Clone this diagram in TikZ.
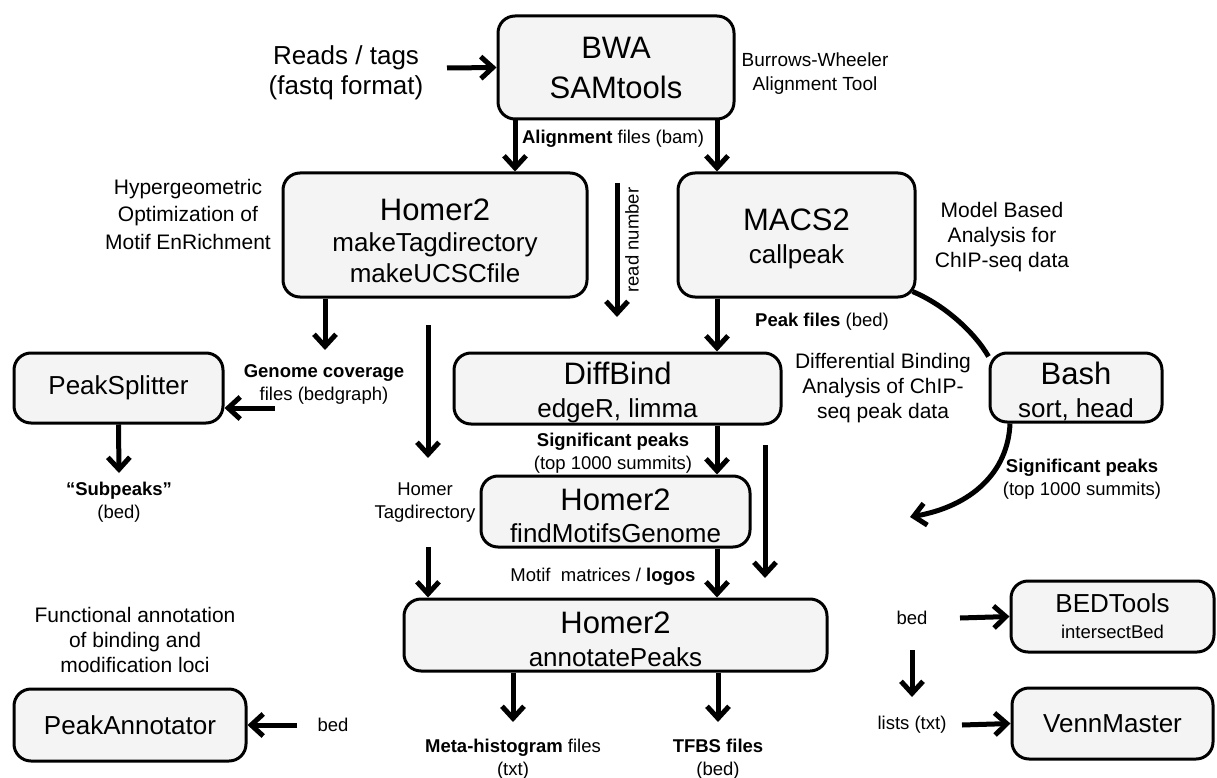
\documentclass[tikz,border=0pt]{standalone}
\usepackage{fontspec}
\setmainfont{Liberation Sans}
\usetikzlibrary{arrows.meta,positioning}
\definecolor{boxgrey}{HTML}{F4F4F4}
\newcommand\toolname[1]{{\fontsize{31}{33}\selectfont\rule{0pt}{30pt}#1}}
\tikzset{
	tool/.style={draw, line width=3pt, rounded corners=17pt, fill=boxgrey, align=center, inner sep=0pt, font=\fontsize{26}{33}\selectfont},
	arr/.style={-{Straight Barb[length=12pt,width=22pt]}, line width=5pt},
	note/.style={align=center, font=\fontsize{18.5}{23}\selectfont},
	desc/.style={align=center, font=\fontsize{21}{25}\selectfont},
}

\begin{document}
\begin{tikzpicture}[x=1pt, y=-1pt, on grid]
	\useasboundingbox (0,0) rectangle (1217,778);

	% tools
	\node[tool, minimum width=236pt, minimum height=103pt, font=\fontsize{31}{40}\selectfont] (bwa) at (616,67.5) {BWA\\SAMtools};
	\node[tool, minimum width=304pt, minimum height=124pt, font=\fontsize{26}{31}\selectfont] (homer) at (435,235) {\toolname{\rule{0pt}{33pt}Homer2}\\makeTagdirectory\\makeUCSCfile};
	\node[tool, minimum width=237pt, minimum height=124pt] (macs) [right=361.5pt of homer] {\toolname{MACS2}\\callpeak};
	\node[tool, minimum width=327pt, minimum height=71pt] (diffbind) at (617.5,388.5) {\toolname{DiffBind}\\edgeR, limma};
	\node[tool, minimum width=172pt, minimum height=69pt] (bash) at (1076,387.5) {\toolname{Bash}\\sort, head};
	\node[tool, minimum width=209pt, minimum height=70pt] (peaksplit) at (118.5,388) {PeakSplitter};
	\node[tool, minimum width=269pt, minimum height=71pt, font=\fontsize{26}{32}\selectfont] (motifs) at (615.5,511.5) {\toolname{Homer2}\\findMotifsGenome};
	\node[tool, minimum width=423pt, minimum height=72pt] (annot) [below=123.5pt of motifs] {\toolname{Homer2}\\annotatePeaks};
	\node[tool, minimum width=232pt, minimum height=72pt] (peakannot) at (130,725) {PeakAnnotator};
	\node[tool, minimum width=203pt, minimum height=71pt, font=\fontsize{18.5}{26}\selectfont] (bedtools) at (1112.5,616.5) {{\fontsize{26}{26}\selectfont BEDTools}\\intersectBed};
	\node[tool, minimum width=201pt, minimum height=71pt] (venn) [below=107pt of bedtools] {VennMaster};

	% descriptions
	\node[align=center, font=\fontsize{26}{30}\selectfont] (reads) at (346,73) {Reads / tags\\(fastq format)};
	\node[align=center, font=\fontsize{19}{24}\selectfont] (burrows) at (815,74) {Burrows-Wheeler\\Alignment Tool};
	\node[align=center, font=\fontsize{21}{27.5}\selectfont] (hyper) at (188,214) {Hypergeometric\\Optimization of\\Motif EnRichment};
	\node[desc] (model) at (1002,237) {Model Based\\Analysis for\\ChIP-seq data};
	\node[desc] (diffdesc) at (883,388) {Differential Binding\\Analysis of ChIP-\\seq peak data};
	\node[desc] (funcann) at (135,640) {Functional annotation\\of binding and\\modification loci};

	% file labels
	\node[note] (align) at (613,139) {\textbf{Alignment} files (bam)};
	\node[note, rotate=90] (readnum) at (632,240) {read number};
	\node[note] (peakf) at (822,322) {\textbf{Peak files} (bed)};
	\node[note] (genome) at (324,384.5) {\textbf{Genome coverage}\\files (bedgraph)};
	\node[note] (subpeaks) at (119,502.5) {\textbf{“Subpeaks”}\\(bed)};
	\node[note] (homertag) at (425,502.5) {Homer\\Tagdirectory};
	\node[note] (sigpeaks) at (613,453.5) {\textbf{Significant peaks}\\(top 1000 summits)};
	\node[note] (sigtop) at (1082,479) {\textbf{Significant peaks}\\(top 1000 summits)};
	\node[note] (motifmat) at (603,577) {Motif\ \ matrices / \textbf{logos}};
	\node[note] (metahist) at (513,759) {\textbf{Meta-histogram} files\\(txt)};
	\node[note] (tfbs) at (718,759) {\textbf{TFBS files}\\(bed)};
	\node[note] (bedann) at (333,725) {bed};
	\node[note] (bedint) at (912,618) {bed};
	\node[note] (lists) at (912,725) {lists (txt)};

	% free ends
	\coordinate (readsin) at (447,68);
	\coordinate (readtop) at (617,183);
	\coordinate (readbot) at (617,317);
	\coordinate (covend) at (325,350);
	\coordinate (covin) at (275,408);
	\coordinate (subend) at (119,473);
	\coordinate (tagtop) at (428,325);
	\coordinate (tagbot) at (428,458);
	\coordinate (tagin) at (428,547);
	\coordinate (sigtopA) at (765,445);
	\coordinate (sigtopB) at (765,578);
	\coordinate (sigend) at (910,517);
	\coordinate (metaend) at (513,722);
	\coordinate (tfbsend) at (718,722);
	\coordinate (annin) at (297,725);
	\coordinate (bedin) at (960,618);
	\coordinate (listtop) at (912,650);
	\coordinate (listbot) at (912,697);
	\coordinate (vennin) at (962,725);

	% connectors
	\draw[arr] (readsin) -- (bwa.west);
	\draw[arr] ([xshift=-101pt]bwa.south) -- ([xshift=80pt]homer.north);
	\draw[arr] ([xshift=101pt]bwa.south) -- ([xshift=-79.5pt]macs.north);
	\draw[arr] (readtop) -- (readbot);
	\draw[arr] ([xshift=-110pt]homer.south) -- (covend);
	\draw[arr] (covin) -- ([yshift=-20pt]peaksplit.east);
	\draw[arr] (peaksplit.south) -- (subend);
	\draw[arr] (tagtop) -- (tagbot);
	\draw[arr] (tagin) -- ([xshift=-187.5pt]annot.north);
	\draw[arr] ([xshift=-79.5pt]macs.south) -- ([xshift=99.5pt]diffbind.north);
	\draw[arr] ([xshift=99.5pt]diffbind.south) -- ([xshift=101.5pt]motifs.north);
	\draw[arr] ([xshift=101.5pt]motifs.south) -- ([xshift=101.5pt]annot.north);
	\draw[arr] (sigtopA) -- (sigtopB);
	\draw[line width=5pt] ([xshift=-4pt,yshift=7pt]macs.south east) .. controls (945,305) and (975,333) .. ([yshift=-5pt]bash.north west);
	\draw[arr] ([xshift=-66pt]bash.south) .. controls (1008,472) and (972,506) .. (sigend);
	\draw[arr] ([xshift=-102.5pt]annot.south) -- (metaend);
	\draw[arr] ([xshift=102.5pt]annot.south) -- (tfbsend);
	\draw[arr] (annin) -- (peakannot.east);
	\draw[arr] (bedin) -- (bedtools.west);
	\draw[arr] (listtop) -- (listbot);
	\draw[arr] (vennin) -- (venn.west);
\end{tikzpicture}
\end{document}
